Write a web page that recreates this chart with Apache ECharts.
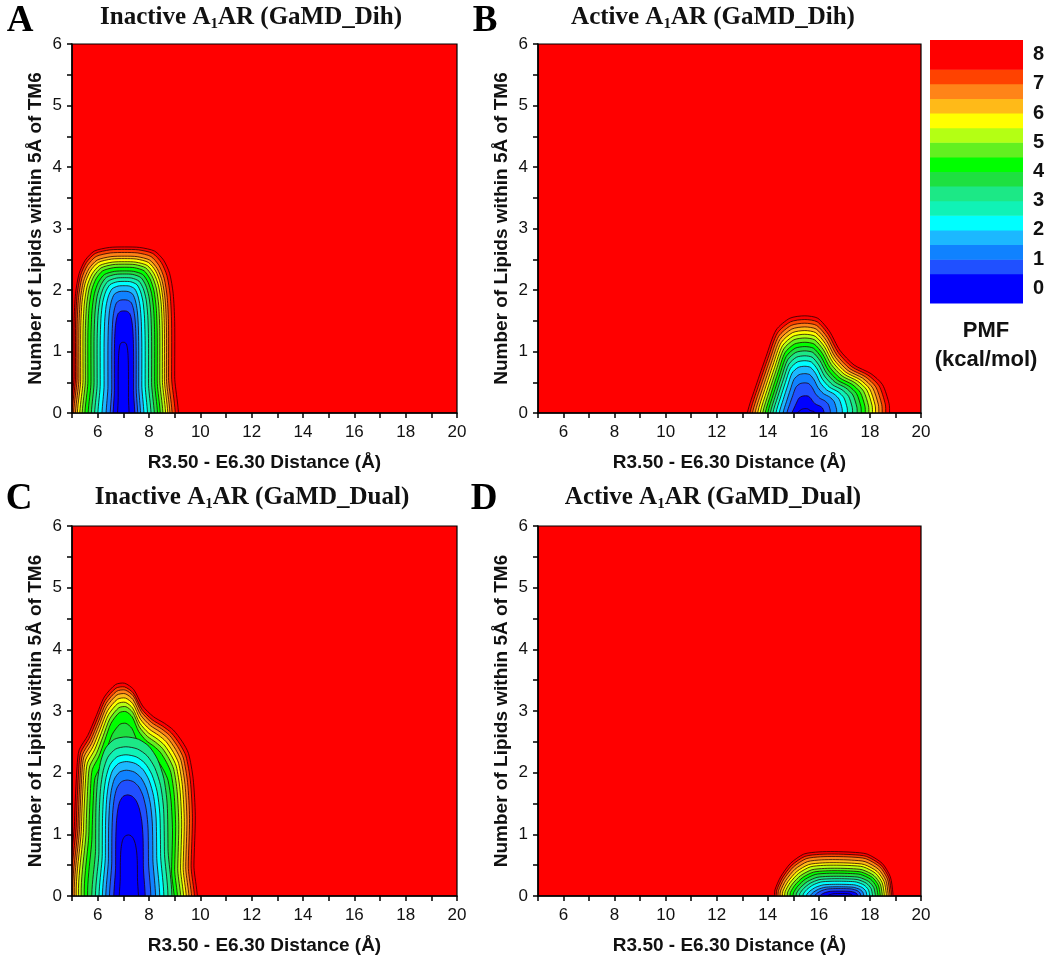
<!DOCTYPE html>
<html><head><meta charset="utf-8">
<script src="https://cdn.jsdelivr.net/npm/echarts@6/dist/echarts.min.js"></script>
<style>html,body{margin:0;padding:0;background:#fff}#c{width:1050px;height:961px}</style>
</head><body><div id="c"></div>
<script>
// ---- axis ticks ----
const xRange = [5, 20];
const yRange = [0, 6];
const xTickLabels = [6, 8, 10, 12, 14, 16, 18, 20];
const yTickLabels = [0, 1, 2, 3, 4, 5, 6];

// ---- colour scale (PMF, kcal/mol): band lower bounds and colours ----
const barLevels = [-0.5, 0, 0.5, 1, 1.5, 2, 2.5, 3, 3.5, 4, 4.5, 5, 5.5, 6, 6.5, 7, 7.5, 8];
const barColors = ['#0000FF', '#0000FF', '#2050FF', '#1082FF', '#1CB8FF', '#00FFFF', '#10F2B6', '#1CE886', '#1EE040',
  '#00FF00', '#62F020', '#B4FF14', '#FFFF00', '#FFBA18', '#FF8418', '#FF4200', '#FF0000', '#FF0000'];
const barTickLabels = [0, 1, 2, 3, 4, 5, 6, 7, 8];

// ---- contour outlines ----
// each contour: [level, x at left foot, x of top, top height, x at right foot, outline profile]
// profile: outline shape as [u, v]; u 0..1 = left foot -> top, 1..2 = top -> right foot; v = fraction of top height
const profileA = [[0, 0.22], [0, 0.55], [0.03, 0.72], [0.1, 0.84], [0.22, 0.92], [0.4, 0.975], [0.7, 0.997], [1, 1],
  [1.3, 0.997], [1.6, 0.975], [1.78, 0.92], [1.9, 0.84], [1.97, 0.72], [2, 0.55], [2, 0.22]];
const contoursA = [
  [8, 5.08, 7.05, 2.70, 9.00, 0], [7.5, 5.14, 7.05, 2.66, 8.88, 0], [7, 5.20, 7.05, 2.61, 8.76, 0], [6.5, 5.27, 7.05, 2.55, 8.68, 0],
  [6, 5.34, 7.05, 2.51, 8.60, 0], [5.5, 5.43, 7.05, 2.46, 8.52, 0], [5, 5.52, 7.05, 2.42, 8.42, 0], [4.5, 5.62, 7.05, 2.37, 8.32, 0],
  [4, 5.74, 7.05, 2.31, 8.22, 0], [3.5, 5.86, 7.05, 2.26, 8.10, 0], [3, 5.98, 7.05, 2.20, 7.98, 0], [2.5, 6.10, 7.05, 2.14, 7.85, 0],
  [2, 6.25, 7.03, 2.07, 7.72, 0], [1.5, 6.40, 7.02, 1.98, 7.60, 0], [1, 6.55, 7.02, 1.84, 7.50, 0], [0.5, 6.65, 7.02, 1.66, 7.40, 0],
  [0, 6.80, 7.00, 1.15, 7.20, 0]
];
const profileB = [[0, 0], [0.152, 0.285], [0.326, 0.582], [0.5, 0.854], [0.739, 0.975], [1, 1], [1.153, 0.975], [1.29, 0.842],
  [1.413, 0.646], [1.581, 0.494], [1.78, 0.405], [1.917, 0.291], [1.994, 0.095], [2, 0]];
const contoursB = [
  [8, 13.20, 15.45, 1.58, 18.77, 0], [7.5, 13.30, 15.45, 1.52, 18.62, 0], [7, 13.40, 15.45, 1.46, 18.48, 0], [6.5, 13.50, 15.45, 1.40, 18.35, 0],
  [6, 13.60, 15.45, 1.34, 18.22, 0], [5.5, 13.70, 15.45, 1.28, 18.10, 0], [5, 13.80, 15.45, 1.22, 17.96, 0], [4.5, 13.90, 15.45, 1.15, 17.82, 0],
  [4, 14.00, 15.45, 1.08, 17.66, 0], [3.5, 14.10, 15.45, 1.01, 17.50, 0], [3, 14.20, 15.45, 0.93, 17.32, 0], [2.5, 14.32, 15.45, 0.85, 17.12, 0],
  [2, 14.45, 15.45, 0.76, 16.92, 0], [1.5, 14.60, 15.45, 0.64, 16.70, 0], [1, 14.75, 15.45, 0.49, 16.45, 0], [0.5, 14.95, 15.48, 0.28, 16.20, 0],
  [0, 15.15, 15.50, 0.07, 15.85, 0]
];
const profileC = [[0, 0.35], [0.05, 0.61], [0.092, 0.687], [0.262, 0.754], [0.426, 0.843], [0.595, 0.936], [0.82, 0.994], [1, 1],
  [1.13, 0.971], [1.26, 0.893], [1.415, 0.843], [1.574, 0.812], [1.704, 0.78], [1.833, 0.725], [1.922, 0.67], [1.989, 0.551],
  [2.02, 0.377], [2, 0.145]];
const profileCInner = [[0, 0.3], [0.01, 0.55], [0.06, 0.72], [0.16, 0.84], [0.33, 0.93], [0.62, 0.985], [1, 1], [1.3, 0.985],
  [1.55, 0.94], [1.75, 0.86], [1.9, 0.74], [1.98, 0.58], [2, 0.3]];
const contoursC = [
  [8, 5.10, 7.05, 3.45, 9.75, 0], [7.5, 5.17, 7.05, 3.39, 9.64, 0], [7, 5.24, 7.07, 3.34, 9.53, 0], [6.5, 5.30, 7.07, 3.28, 9.43, 0],
  [6, 5.37, 7.08, 3.21, 9.33, 0], [5.5, 5.45, 7.08, 3.14, 9.23, 0], [5, 5.55, 7.10, 3.07, 9.12, 0], [4.5, 5.66, 7.10, 2.99, 9.00, 0],
  [4, 5.78, 7.10, 2.80, 8.88, 0], [3.5, 5.92, 7.10, 2.58, 8.74, 1], [3, 6.05, 7.10, 2.42, 8.60, 1], [2.5, 6.18, 7.10, 2.29, 8.45, 1],
  [2, 6.30, 7.12, 2.18, 8.30, 1], [1.5, 6.42, 7.12, 2.04, 8.15, 1], [1, 6.55, 7.15, 1.88, 7.98, 1], [0.5, 6.70, 7.17, 1.64, 7.78, 1],
  [0, 6.88, 7.20, 0.99, 7.55, 1]
];
const profileD = [[0, 0], [0.009, 0.14], [0.103, 0.43], [0.269, 0.736], [0.491, 0.944], [0.744, 0.993], [1, 1], [1.304, 0.986],
  [1.561, 0.944], [1.817, 0.736], [1.957, 0.43], [2, 0.07], [2, 0]];
const contoursD = [
  [8, 14.26, 16.60, 0.72, 18.90, 0], [7.5, 14.33, 16.62, 0.68, 18.84, 0], [7, 14.40, 16.64, 0.64, 18.78, 0], [6.5, 14.48, 16.66, 0.59, 18.71, 0],
  [6, 14.57, 16.68, 0.54, 18.64, 0], [5.5, 14.66, 16.70, 0.50, 18.56, 0], [5, 14.76, 16.72, 0.45, 18.48, 0], [4.5, 14.87, 16.74, 0.41, 18.40, 0],
  [4, 14.99, 16.76, 0.37, 18.31, 0], [3.5, 15.11, 16.78, 0.32, 18.21, 0], [3, 15.24, 16.80, 0.28, 18.10, 0], [2.5, 15.38, 16.80, 0.24, 17.99, 0],
  [2, 15.52, 16.82, 0.19, 17.88, 0], [1.5, 15.68, 16.82, 0.15, 17.76, 0], [1, 15.85, 16.84, 0.12, 17.64, 0], [0.5, 16.05, 16.85, 0.08, 17.52, 0],
  [0, 16.35, 16.85, 0.04, 17.32, 0]
];

const panelTitles = ['Inactive A|AR (GaMD_Dih)', 'Active A|AR (GaMD_Dih)', 'Inactive A|AR (GaMD_Dual)', 'Active A|AR (GaMD_Dual)'];
const panelLetters = ['A', 'B', 'C', 'D'];
const xName = 'R3.50 - E6.30 Distance (Å)';
const yName = 'Number of Lipids within 5Å of TM6';

// ---- layout ----
const SANS = '"Liberation Sans", Arial, sans-serif';
const SERIF = '"Liberation Serif", "Times New Roman", serif';
const grids = [
  { left: 72, top: 44, width: 385, height: 369 },
  { left: 538, top: 44, width: 383, height: 369 },
  { left: 72, top: 526, width: 385, height: 370 },
  { left: 538, top: 526, width: 383, height: 370 }
];
const titlePos = [[251, 18], [713, 18], [252, 498], [713, 498]];
const letterPos = [[20, 21], [485, 21], [19, 499], [484, 499]];

function fillOf(level) { return barColors[barLevels.indexOf(level - 0.5)]; }
function outline(profile, c) {
  const xl = c[1], xt = c[2], t = c[3], xr = c[4];
  const pts = [[xl, -0.3]];
  profile.forEach(function (p) {
    const x = p[0] <= 1 ? xl + p[0] * (xt - xl) : xt + (p[0] - 1) * (xr - xt);
    pts.push([x, p[1] * t]);
  });
  pts.push([xr, -0.3]);
  return pts;
}
function contourSeries(idx, contours, profiles) {
  return {
    type: 'custom', xAxisIndex: idx, yAxisIndex: idx, clip: true, silent: true,
    data: contours.map(function (c, i) { return [c[2], c[3], i]; }),
    renderItem: function (params, api) {
      const c = contours[params.dataIndex];
      const pts = outline(profiles[c[5]], c).map(function (p) { return api.coord(p); });
      return {
        type: 'polygon', z2: params.dataIndex,
        shape: { points: pts, smooth: 0.25 },
        style: { fill: fillOf(c[0]), stroke: 'rgba(30,0,0,0.85)', lineWidth: 0.9 }
      };
    }
  };
}

const xAxes = grids.map(function (g, i) {
  return {
    gridIndex: i, type: 'value', min: xRange[0], max: xRange[1], interval: 1, z: 10,
    axisLine: { onZero: false, lineStyle: { color: '#000', width: 1.5 } },
    axisTick: { length: 5, lineStyle: { color: '#000', width: 1.5 } },
    splitLine: { show: false },
    axisLabel: { margin: 11, fontSize: 17, color: '#111', fontFamily: SANS,
      formatter: function (v) { return xTickLabels.indexOf(v) >= 0 ? String(v) : ''; } },
    name: xName, nameLocation: 'middle', nameGap: 40,
    nameTextStyle: { fontSize: 19, fontWeight: 'bold', color: '#111', fontFamily: SANS }
  };
});
const yAxes = grids.map(function (g, i) {
  return {
    gridIndex: i, type: 'value', min: yRange[0], max: yRange[1], interval: 0.5, z: 10,
    axisLine: { onZero: false, lineStyle: { color: '#000', width: 1.5 } },
    axisTick: { length: 5, lineStyle: { color: '#000', width: 1.5 } },
    splitLine: { show: false },
    axisLabel: { margin: 10, fontSize: 17, color: '#111', fontFamily: SANS,
      formatter: function (v) { return yTickLabels.indexOf(v) >= 0 ? String(v) : ''; } },
    name: yName, nameLocation: 'middle', nameGap: 27,
    nameTextStyle: { fontSize: 19, fontWeight: 'bold', color: '#111', fontFamily: SANS }
  };
});
// colour bar axes
xAxes.push({ gridIndex: 4, type: 'value', min: 0, max: 1, show: false });
yAxes.push({
  gridIndex: 4, type: 'value', min: -0.5, max: 8.5, interval: 0.5, position: 'right',
  axisLine: { show: false }, axisTick: { show: false }, splitLine: { show: false },
  axisLabel: { margin: 10, fontSize: 20, fontWeight: 'bold', color: '#111', fontFamily: SANS, padding: [6, 0, 0, 0],
    formatter: function (v) { return barTickLabels.indexOf(v) >= 0 ? String(v) : ''; } }
});

const series = [
  contourSeries(0, contoursA, [profileA]),
  contourSeries(1, contoursB, [profileB]),
  contourSeries(2, contoursC, [profileC, profileCInner]),
  contourSeries(3, contoursD, [profileD]),
  {
    type: 'custom', xAxisIndex: 4, yAxisIndex: 4, silent: true,
    data: barLevels.map(function (lo, i) { return [0, lo, i]; }),
    renderItem: function (params, api) {
      const lo = barLevels[params.dataIndex];
      const p0 = api.coord([0, lo + 0.5]);
      const p1 = api.coord([1, lo]);
      return { type: 'rect', shape: { x: p0[0], y: p0[1], width: p1[0] - p0[0], height: p1[1] - p0[1] + 0.5 },
        style: { fill: barColors[params.dataIndex] } };
    }
  }
];

const graphics = [];
panelTitles.forEach(function (t, i) {
  const parts = t.split('|');
  graphics.push({
    type: 'text', x: titlePos[i][0], y: titlePos[i][1], z: 20,
    style: {
      text: '{a|' + parts[0] + '}{s|1}{a|' + parts[1] + '}', align: 'center', verticalAlign: 'middle',
      rich: {
        a: { fontFamily: SERIF, fontWeight: 'bold', fontSize: 25, fill: '#111', lineHeight: 28 },
        s: { fontFamily: SERIF, fontWeight: 'bold', fontSize: 15, fill: '#111', verticalAlign: 'bottom', lineHeight: 18 }
      }
    }
  });
  graphics.push({
    type: 'text', x: letterPos[i][0], y: letterPos[i][1], z: 20,
    style: { text: panelLetters[i], align: 'center', verticalAlign: 'middle',
      fontFamily: SERIF, fontWeight: 'bold', fontSize: 37, fill: '#000' }
  });
});
graphics.push({ type: 'text', x: 986, y: 331, style: { text: 'PMF', align: 'center', verticalAlign: 'middle',
  fontFamily: SANS, fontWeight: 'bold', fontSize: 22, fill: '#111' } });
graphics.push({ type: 'text', x: 986, y: 360, style: { text: '(kcal/mol)', align: 'center', verticalAlign: 'middle',
  fontFamily: SANS, fontWeight: 'bold', fontSize: 22, fill: '#111' } });

const chart = echarts.init(document.getElementById('c'), null, { renderer: 'canvas' });
chart.setOption({
  animation: false,
  backgroundColor: '#fff',
  grid: grids.map(function (g) {
    return Object.assign({ show: true, backgroundColor: '#FF0000', borderColor: '#000', borderWidth: 1.2 }, g);
  }).concat([{ left: 930, top: 40, width: 93, height: 263 }]),
  xAxis: xAxes,
  yAxis: yAxes,
  series: series,
  graphic: graphics
});
</script></body></html>
